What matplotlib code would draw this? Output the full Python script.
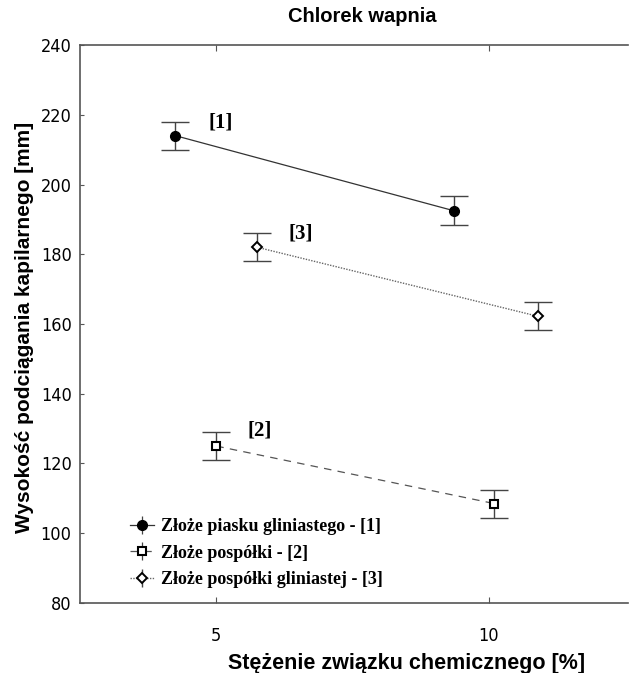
import matplotlib
matplotlib.use("Agg")
import matplotlib.pyplot as plt
from matplotlib import font_manager as fm

# Capillary rise data for calcium chloride solutions
conc_1 = [4.25, 9.35]
height_1 = [214.0, 192.5]
err_1 = [4.0, 4.2]

conc_2 = [5.0, 10.1]
height_2 = [125.0, 108.5]
err_2 = [4.0, 4.0]

conc_3 = [5.75, 10.9]
height_3 = [182.0, 162.2]
err_3 = [4.0, 4.0]

series_names = ["Złoże piasku gliniastego - [1]",
                "Złoże pospółki - [2]",
                "Złoże pospółki gliniastej - [3]"]
tags = ["[1]", "[2]", "[3]"]
tag_pos = [(4.85, 217.9), (5.57, 129.5), (6.32, 186.0)]

x_ticks = [5, 10]
y_ticks = [80, 100, 120, 140, 160, 180, 200, 220, 240]

# pick a condensed face for the tick numbers if one is installed
fonts = fm.fontManager.ttflist
names = {f.name for f in fonts}
if "Liberation Sans Narrow" in names:
    tick_font = dict(family="Liberation Sans Narrow")
elif any(f.name == "DejaVu Sans" and f.stretch == "condensed" for f in fonts):
    tick_font = dict(family="DejaVu Sans", stretch="condensed")
elif "Roboto Condensed" in names:
    tick_font = dict(family="Roboto Condensed")
else:
    tick_font = dict(family="Liberation Sans")

fig = plt.figure(figsize=(6.3, 6.73), dpi=100)
ax = fig.add_axes([80 / 630, 1 - 603 / 673, 548 / 630, (603 - 45) / 673])

sans = "Liberation Sans"
serif = "Liberation Serif"

spine_col = "#555555"
cap_col = "#444444"

styles = [
    dict(ls="-", color="#333333", lw=0.9, marker="o", mfc="black", mec="black", ms=7),
    dict(ls=(0, (6, 5)), color="#555555", lw=0.9, marker="s", mfc="white", mec="black", ms=6, mew=1.5),
    dict(ls=(0, (1, 1)), color="#666666", lw=1.0, marker="D", mfc="white", mec="black", ms=5, mew=1.4),
]

data = [(conc_1, height_1, err_1), (conc_2, height_2, err_2), (conc_3, height_3, err_3)]
for (xs, ys, es), st in zip(data, styles):
    ax.plot(xs, ys, ls=st["ls"], color=st["color"], lw=st["lw"], zorder=2)
    ax.errorbar(xs, ys, yerr=es, fmt="none", ecolor=cap_col, elinewidth=1.0,
                capsize=10, capthick=1.0, zorder=3)
    ax.plot(xs, ys, ls="none", marker=st["marker"], mfc=st["mfc"], mec=st["mec"],
            ms=st["ms"], mew=st.get("mew", 1.0), zorder=4)

for t, (tx, ty) in zip(tags, tag_pos):
    ax.text(tx, ty, t, family=serif, fontweight="bold", fontsize=15,
            ha="left", va="center", color="black")

ax.set_xlim(2.5, 12.55)
ax.set_ylim(80, 240)
ax.set_xticks(x_ticks)
ax.set_yticks(y_ticks)
ax.set_xticklabels([str(v) for v in x_ticks], fontsize=13, **tick_font)
ax.set_yticklabels([str(v) for v in y_ticks], fontsize=13, **tick_font)
ax.tick_params(axis="x", direction="in", length=4, top=True, bottom=True,
               color=spine_col, pad=17)
ax.tick_params(axis="y", direction="in", length=3, color=spine_col, pad=6)

for s in ["left", "top", "bottom"]:
    ax.spines[s].set_color(spine_col)
    ax.spines[s].set_linewidth(1.2)
ax.spines["right"].set_visible(False)

# Legend with error-bar style handles
handles = []
for st in styles:
    h = ax.errorbar([], [], yerr=[], ls=st["ls"], color=st["color"], lw=st["lw"],
                    marker=st["marker"], mfc=st["mfc"], mec=st["mec"], ms=st["ms"],
                    mew=st.get("mew", 1.0), ecolor=cap_col, capsize=8)
    handles.append(h)
leg = fig.legend(handles, series_names, loc="upper left",
                 bbox_to_anchor=(130 / 630, 1 - 518 / 673),
                 frameon=False, prop=dict(family=serif, weight="bold", size=13),
                 handlelength=1.35, handletextpad=0.35, labelspacing=0.54,
                 borderpad=0, borderaxespad=0)

fig.text(362 / 630, 1 - 17 / 673, "Chlorek wapnia", family=sans, fontweight="bold",
         fontsize=14.5, ha="center", va="center")
fig.text(407 / 630, 1 - 663 / 673, "Stężenie związku chemicznego [%]", family=sans,
         fontweight="bold", fontsize=15.5, ha="center", va="center")
fig.text(25 / 630, 1 - 327 / 673, "Wysokość podciągania kapilarnego [mm]", family=sans,
         fontweight="bold", fontsize=15, ha="center", va="center", rotation=90)

fig.savefig("out.png", dpi=100)
